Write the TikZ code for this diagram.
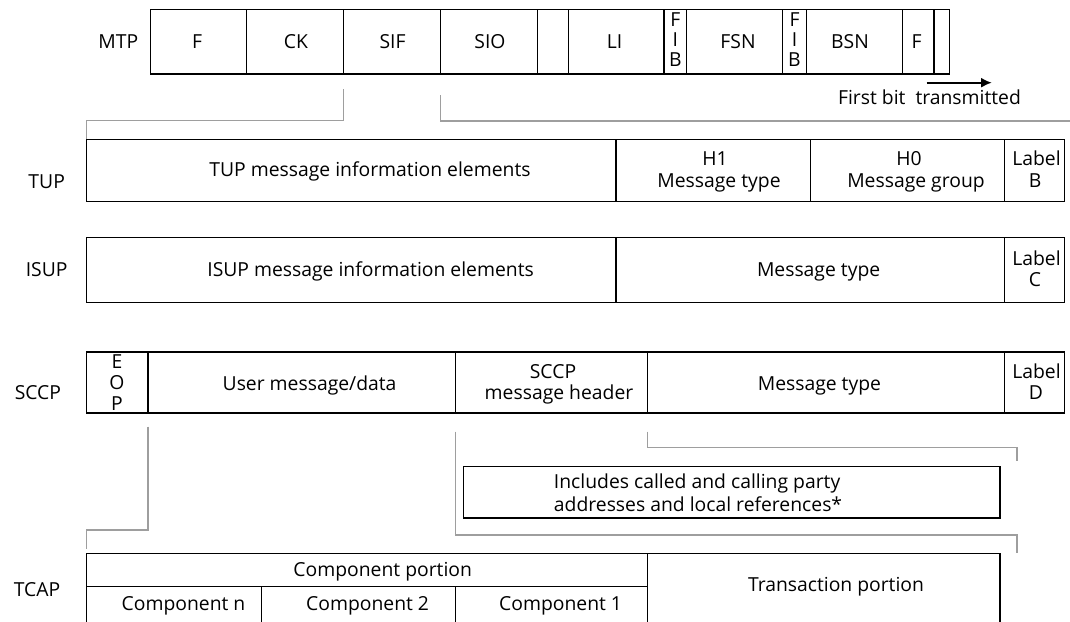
\documentclass[tikz,border=0pt]{standalone}
\usepackage{fontspec}
\setmainfont{Open Sans}
\usetikzlibrary{fit,calc,arrows.meta}
\tikzset{
  cell/.style={draw=black, line width=1.1pt, inner sep=0pt, outer sep=0pt},
  txt/.style={font=\fontsize{14.5}{16.5}\selectfont, inner sep=0pt, anchor=base},
  txtw/.style={txt, anchor=base west},
  conn/.style={draw=black!38, line width=1pt},
  tip/.style={-{Latex[length=8pt,width=7.5pt]}, line width=1.2pt},
}
\newcommand\cellbox[3]{\node[cell, fit={(#2) (#3)}] (#1) {};}
\begin{document}
\begin{tikzpicture}[x=0.75pt, y=-0.75pt]
\useasboundingbox (0,0) rectangle (1070,621);
\fill[white] (0,0) rectangle (1070,621);
\clip (0,0) rectangle (1070,621);

% ---------------- MTP ----------------
\node[txt] (lMTP) at (118.3,48.3) {MTP};
\cellbox{mF}{150.7,9.3}{246.7,74}
\cellbox{mCK}{246.7,9.3}{343.3,74}
\cellbox{mSIF}{343.3,9.3}{440.7,74}
\cellbox{mSIO}{440.7,9.3}{537.7,74}
\cellbox{mE1}{537.7,9.3}{568.3,74}
\cellbox{mLI}{568.3,9.3}{664,74}
\cellbox{mFIBa}{664,9.3}{686.7,74}
\cellbox{mFSN}{686.7,9.3}{782.3,74}
\cellbox{mFIBb}{782.3,9.3}{806.7,74}
\cellbox{mBSN}{806.7,9.3}{902.3,74}
\cellbox{mFb}{902.3,9.3}{934,74}
\cellbox{mE2}{934,9.3}{949.3,74}
\node[txt] (tF) at (197,48.3) {F};
\node[txt] (tCK) at (296,48.3) {CK};
\node[txt] (tSIF) at (392.5,48.3) {SIF};
\node[txt] (tSIO) at (490,48.3) {SIO};
\node[txt] (tLI) at (614.5,48.3) {LI};
\node[txt] (tFa1) at (675.3,26.5) {F};
\node[txt] (tFa2) at (675.3,46) {I};
\node[txt] (tFa3) at (675.3,66) {B};
\node[txt] (tFSN) at (738,48.3) {FSN};
\node[txt] (tFb1) at (794.5,26.5) {F};
\node[txt] (tFb2) at (794.5,46) {I};
\node[txt] (tFb3) at (794.5,66) {B};
\node[txt] (tBSN) at (850,48.3) {BSN};
\node[txt] (tF2) at (916.5,48.3) {F};

\coordinate (arA) at (926.7,82.7);
\coordinate (arB) at (991.7,82.7);
\draw[tip] (arA) -- (arB);
\node[txt] (tFirst) at (929.5,104.3) {First bit\ \ transmitted};

% ---------------- TUP ----------------
\node[txt] (lTUP) at (46.7,188.3) {TUP};
\cellbox{tMain}{86.5,139.3}{616,201.7}
\cellbox{tH1}{616,139.3}{810.5,201.7}
\cellbox{tH0}{810.5,139.3}{1004.5,201.7}
\cellbox{tLB}{1004.5,139.3}{1064.5,201.7}
\node[txt] (xTUP) at (370,176.7) {TUP message information elements};
\node[txt] (xH1a) at (715,165) {H1};
\node[txt] (xH1b) at (719,187.3) {Message type};
\node[txt] (xH0a) at (909,165) {H0};
\node[txt] (xH0b) at (916,187.3) {Message group};
\node[txt] (xLBa) at (1036.5,165) {Label};
\node[txt] (xLBb) at (1035,187.3) {B};

% ---------------- ISUP ----------------
\node[txt] (lISUP) at (46.7,276.7) {ISUP};
\cellbox{iMain}{86.5,237.3}{616,302.7}
\cellbox{iMT}{616,237.3}{1004.5,302.7}
\cellbox{iLC}{1004.5,237.3}{1064.5,302.7}
\node[txt] (xISUP) at (370.6,276.3) {ISUP message information elements};
\node[txt] (xIMT) at (818.6,276.3) {Message type};
\node[txt] (xLCa) at (1036.5,265.3) {Label};
\node[txt] (xLCb) at (1035,286.7) {C};

% ---------------- SCCP ----------------
\node[txt] (lSCCP) at (37.9,399.3) {SCCP};
\cellbox{sEOP}{86.5,352}{148,413}
\cellbox{sUser}{148,352}{455.7,413}
\cellbox{sHdr}{455.7,352}{647.6,413}
\cellbox{sMT}{647.6,352}{1004.5,413}
\cellbox{sLD}{1004.5,352}{1064.5,413}
\node[txt] (xE) at (117,368.3) {E};
\node[txt] (xO) at (117,389.5) {O};
\node[txt] (xP) at (117,410) {P};
\node[txt] (xUser) at (309.6,390) {User message/data};
\node[txt] (xHa) at (553,378.3) {SCCP};
\node[txt] (xHb) at (559,399.3) {message header};
\node[txt] (xSMT) at (819.4,390) {Message type};
\node[txt] (xLDa) at (1036.5,378.3) {Label};
\node[txt] (xLDb) at (1036,399.3) {D};

% ---------------- Includes box ----------------
\cellbox{inc}{463.5,466.7}{1000,518}
\node[txtw] (xInc1) at (553.7,488.3) {Includes called and calling party};
\node[txtw] (xInc2) at (553.7,511.3) {addresses and local references*};

% ---------------- TCAP ----------------
\node[txt] (lTCAP) at (37,596) {TCAP};
\cellbox{cport}{86.5,553.3}{647.6,586.7}
\cellbox{cN}{86.5,586.7}{261.7,630}
\cellbox{cTwo}{261.7,586.7}{455.7,630}
\cellbox{cOne}{455.7,586.7}{647.6,630}
\cellbox{trans}{647.6,553.3}{1000,630}
\node[txt] (xCP) at (382.7,576.7) {Component portion};
\node[txt] (xCN) at (183.5,610) {Component n};
\node[txt] (xC2) at (367.6,610) {Component 2};
\node[txt] (xC1) at (560.6,610) {Component 1};
\node[txt] (xTR) at (836,591.7) {Transaction portion};

% ---------------- connectors ----------------
\coordinate (c2end) at (1075,121);
\coordinate (c3end) at (1017,460.7);
\coordinate (c4end) at (1017,553.3);
\draw[conn] ($(mSIF.south west)+(0,15.3)$) |- ($(tMain.north west)+(0,-19)$) -- (tMain.north west);
\draw[conn] ($(mSIO.south west)+(0,21)$) |- (c2end);
\draw[conn] ($(sMT.south west)+(0,18.7)$) |- ($(c3end)+(0,-13)$) -- (c3end);
\draw[conn] ($(sHdr.south west)+(0,18.7)$) |- ($(c4end)+(0,-18.3)$) -- (c4end);
\draw[conn] ($(sEOP.south east)+(0,13.7)$) |- ($(cport.north west)+(0,-23.3)$) -- ($(cport.north west)+(0,-4.3)$);
\end{tikzpicture}
\end{document}
